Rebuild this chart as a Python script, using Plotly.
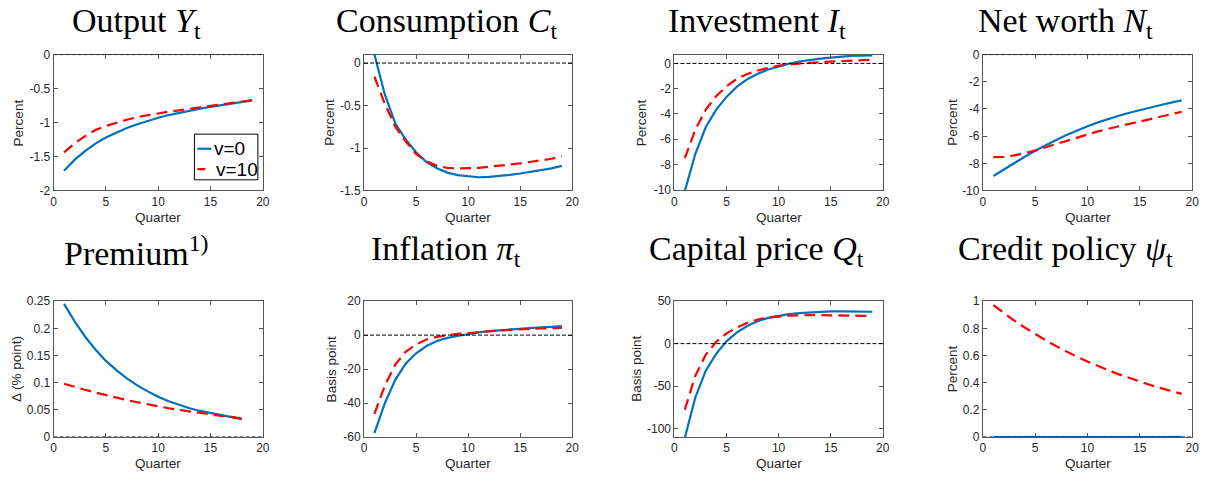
import plotly.graph_objects as go

# ---------------------------------------------------------------------------
# Impulse responses (quarters 1..19), v=0 vs v=10
# ---------------------------------------------------------------------------
quarters = list(range(1, 20))
quarters_premium = list(range(1, 19))

output_v0 = [-1.71, -1.55, -1.42, -1.31, -1.22, -1.145, -1.08, -1.025, -0.975, -0.93,
             -0.89, -0.855, -0.825, -0.795, -0.77, -0.745, -0.72, -0.70, -0.675]
output_v10 = [-1.44, -1.31, -1.20, -1.11, -1.05, -1.00, -0.96, -0.92, -0.89, -0.86,
              -0.84, -0.82, -0.80, -0.78, -0.76, -0.74, -0.72, -0.70, -0.67]

consumption_v0 = [0.10, -0.37, -0.71, -0.90, -1.05, -1.165, -1.24, -1.29, -1.32, -1.336,
                  -1.344, -1.34, -1.33, -1.317, -1.30, -1.28, -1.26, -1.24, -1.21]
consumption_v10 = [-0.16, -0.48, -0.75, -0.92, -1.07, -1.157, -1.21, -1.233, -1.241, -1.241,
                   -1.233, -1.22, -1.21, -1.195, -1.18, -1.165, -1.146, -1.127, -1.10]

investment_v0 = [-10.1, -7.17, -5.05, -3.67, -2.65, -1.84, -1.25, -0.82, -0.48, -0.23,
                 -0.03, 0.15, 0.28, 0.38, 0.46, 0.54, 0.59, 0.61, 0.64]
investment_v10 = [-7.5, -5.25, -3.67, -2.60, -1.81, -1.22, -0.84, -0.56, -0.36, -0.18,
                  -0.08, 0.00, 0.05, 0.10, 0.15, 0.20, 0.25, 0.28, 0.30]

networth_v0 = [-8.93, -8.45, -7.98, -7.52, -7.08, -6.67, -6.28, -5.92, -5.58, -5.27,
               -4.99, -4.73, -4.50, -4.28, -4.08, -3.89, -3.71, -3.54, -3.37]
networth_v10 = [-7.55, -7.53, -7.42, -7.26, -7.07, -6.82, -6.58, -6.34, -6.10, -5.85,
                -5.65, -5.46, -5.28, -5.10, -4.93, -4.75, -4.57, -4.39, -4.21]

premium_v0 = [0.245, 0.213, 0.185, 0.161, 0.140, 0.123, 0.108, 0.095, 0.084,
              0.074, 0.066, 0.059, 0.053, 0.048, 0.044, 0.040, 0.036, 0.033]
premium_v10 = [0.098, 0.092, 0.087, 0.082, 0.077, 0.072, 0.068, 0.064, 0.060,
               0.056, 0.053, 0.050, 0.047, 0.044, 0.042, 0.039, 0.037, 0.034]

inflation_v0 = [-57.7, -40.1, -26.3, -16.8, -10.7, -6.4, -3.5, -1.6, -0.5, 0.7,
                1.6, 2.4, 2.9, 3.5, 3.9, 4.3, 4.6, 4.9, 5.3]
inflation_v10 = [-46.3, -29.7, -17.3, -9.8, -5.4, -2.6, -1.0, -0.1, 0.7, 1.2,
                 1.8, 2.4, 2.7, 3.1, 3.5, 3.7, 3.9, 4.1, 4.3]

capital_v0 = [-111.0, -63.6, -32.2, -12.1, 2.7, 13.3, 20.8, 26.5, 30.3, 33.0,
              34.8, 36.0, 36.7, 37.5, 37.9, 37.9, 37.9, 37.9, 37.5]
capital_v10 = [-77.7, -37.9, -13.3, 1.9, 12.1, 18.9, 24.6, 28.4, 30.7, 32.2,
               33.0, 33.3, 33.7, 33.7, 33.3, 33.3, 33.0, 33.0, 32.6]

credit_v0 = [0.0] * 19
credit_v10 = [0.970, 0.912, 0.857, 0.806, 0.757, 0.712, 0.669, 0.629, 0.591, 0.556,
              0.522, 0.491, 0.461, 0.434, 0.408, 0.383, 0.360, 0.339, 0.318]

# Panel titles, axis labels and legend entries
titles = [
    "Output <i>Y</i><sub>t</sub>",
    "Consumption <i>C</i><sub>t</sub>",
    "Investment <i>I</i><sub>t</sub>",
    "Net worth <i>N</i><sub>t</sub>",
    "Premium<sup>1)</sup>",
    "Inflation <i>π</i><sub>t</sub>",
    "Capital price <i>Q</i><sub>t</sub>",
    "Credit policy <i>ψ</i><sub>t</sub>",
]
ylabels = ["Percent", "Percent", "Percent", "Percent",
           "Δ (% point)", "Basis point", "Basis point", "Percent"]
legend_names = ["v=0", "v=10"]

x_ticks = [0, 5, 10, 15, 20]
x_ticktext = ["0", "5", "10", "15", "20"]

y_ranges = [[-2, 0], [-1.5, 0.1], [-10.05, 0.7], [-10, 0],
            [0, 0.25], [-60, 20], [-110, 50], [0, 1]]
y_ticks = [
    [-2, -1.5, -1, -0.5, 0],
    [-1.5, -1, -0.5, 0],
    [-10, -8, -6, -4, -2, 0],
    [-10, -8, -6, -4, -2, 0],
    [0, 0.05, 0.1, 0.15, 0.2, 0.25],
    [-60, -40, -20, 0, 20],
    [-100, -50, 0, 50],
    [0, 0.2, 0.4, 0.6, 0.8, 1],
]
y_ticktext = [
    ["-2", "-1.5", "-1", "-0.5", "0"],
    ["-1.5", "-1", "-0.5", "0"],
    ["-10", "-8", "-6", "-4", "-2", "0"],
    ["-10", "-8", "-6", "-4", "-2", "0"],
    ["0", "0.05", "0.1", "0.15", "0.2", "0.25"],
    ["-60", "-40", "-20", "0", "20"],
    ["-100", "-50", "0", "50"],
    ["0", "0.2", "0.4", "0.6", "0.8", "1"],
]

series = [
    (quarters, output_v0, output_v10),
    (quarters, consumption_v0, consumption_v10),
    (quarters, investment_v0, investment_v10),
    (quarters, networth_v0, networth_v10),
    (quarters_premium, premium_v0, premium_v10),
    (quarters, inflation_v0, inflation_v10),
    (quarters, capital_v0, capital_v10),
    (quarters, credit_v0, credit_v10),
]

# ---------------------------------------------------------------------------
# Layout geometry (pixels in a 1216 x 479 canvas)
# ---------------------------------------------------------------------------
W, H = 1216, 479
col_px = [(51, 262), (364, 574), (677, 887), (988, 1199)]
row_px = [(49, 189), (303, 443)]
ylabel_x = [16, 329, 644, 957, 13, 331, 638, 957]
title_y = [16, 251]
title_shift = -22          # titles sit a little left of the axes centre
xlabel_y = [217, 470]

BLUE = "#0072BD"
RED = "#FF0000"
AXIS = "#555555"
TXT = "#262626"
SANS = "Liberation Sans, Arial, sans-serif"
SERIF = "Liberation Serif, DejaVu Serif, serif"
BLUE_LINE = dict(color=BLUE, width=2.2)
RED_LINE = dict(color=RED, width=2.2, dash="11px,6px")

fig = go.Figure()
annotations = []
shapes = []

for i in range(8):
    r, c = divmod(i, 4)
    ax = "" if i == 0 else str(i + 1)
    xa, ya = "x" + ax, "y" + ax
    x0, x1 = col_px[c]
    top, bot = row_px[r]

    qx, v0, v10 = series[i]
    fig.add_trace(go.Scatter(x=qx, y=v0, mode="lines", name=legend_names[0],
                             xaxis=xa, yaxis=ya, line=BLUE_LINE, showlegend=False))
    fig.add_trace(go.Scatter(x=qx, y=v10, mode="lines", name=legend_names[1],
                             xaxis=xa, yaxis=ya, line=RED_LINE, showlegend=False))

    # dashed zero reference line
    shapes.append(dict(type="line", xref=xa, yref=ya, x0=0, x1=20, y0=0, y1=0,
                       line=dict(color="black", width=1, dash="4px,2px"), layer="above"))

    common = dict(showline=True, linecolor=AXIS, linewidth=1, mirror="ticks",
                  ticks="inside", ticklen=4, tickcolor=AXIS, tickwidth=1,
                  showgrid=False, zeroline=False,
                  tickfont=dict(family=SANS, size=12, color=TXT))
    fig.layout["xaxis" + ax] = dict(
        domain=[x0 / W, x1 / W], anchor=ya, range=[0, 20],
        tickvals=x_ticks, ticktext=x_ticktext, **common)
    fig.layout["yaxis" + ax] = dict(
        domain=[1 - bot / H, 1 - top / H], anchor=xa, range=y_ranges[i],
        tickvals=y_ticks[i], ticktext=y_ticktext[i], **common)

    # panel title
    annotations.append(dict(
        text=titles[i], xref="paper", yref="paper",
        x=((x0 + x1) / 2 + title_shift) / W, y=1 - title_y[r] / H,
        xanchor="center", yanchor="middle", showarrow=False,
        font=dict(family=SERIF, size=34, color="black")))
    # x-axis label
    annotations.append(dict(
        text="Quarter", xref="paper", yref="paper",
        x=(x0 + x1) / 2 / W, y=1 - xlabel_y[r] / H,
        xanchor="center", yanchor="middle", showarrow=False,
        font=dict(family=SANS, size=13.5, color=TXT)))
    # y-axis label
    annotations.append(dict(
        text=ylabels[i], xref="paper", yref="paper", textangle=-90,
        x=ylabel_x[i] / W, y=1 - (top + bot) / 2 / H,
        xanchor="center", yanchor="middle", showarrow=False,
        font=dict(family=SANS, size=13.5, color=TXT)))

# Legend box in the first panel (short line samples, large text)
leg_l, leg_r, leg_t, leg_b = 193, 257, 131, 178
shapes.append(dict(type="rect", xref="paper", yref="paper",
                   x0=leg_l / W, x1=leg_r / W, y0=1 - leg_b / H, y1=1 - leg_t / H,
                   line=dict(color="black", width=1), fillcolor="white", layer="above"))
for k, (row_y, style) in enumerate([(146, BLUE_LINE), (167, RED_LINE)]):
    line_style = dict(style)
    if k == 1:
        line_style["dash"] = "solid"
    shapes.append(dict(type="line", xref="paper", yref="paper",
                       x0=196 / W, x1=(210 if k == 0 else 204) / W,
                       y0=1 - row_y / H, y1=1 - row_y / H,
                       line=line_style, layer="above"))
    annotations.append(dict(
        text=legend_names[k], xref="paper", yref="paper",
        x=(211 if k == 0 else 213) / W, y=1 - row_y / H,
        xanchor="left", yanchor="middle", showarrow=False,
        font=dict(family=SANS, size=19, color="black")))

fig.update_layout(
    width=W, height=H,
    margin=dict(l=0, r=0, t=0, b=0),
    paper_bgcolor="white", plot_bgcolor="white",
    annotations=annotations, shapes=shapes,
    showlegend=False,
)

fig.write_html("out.html")
